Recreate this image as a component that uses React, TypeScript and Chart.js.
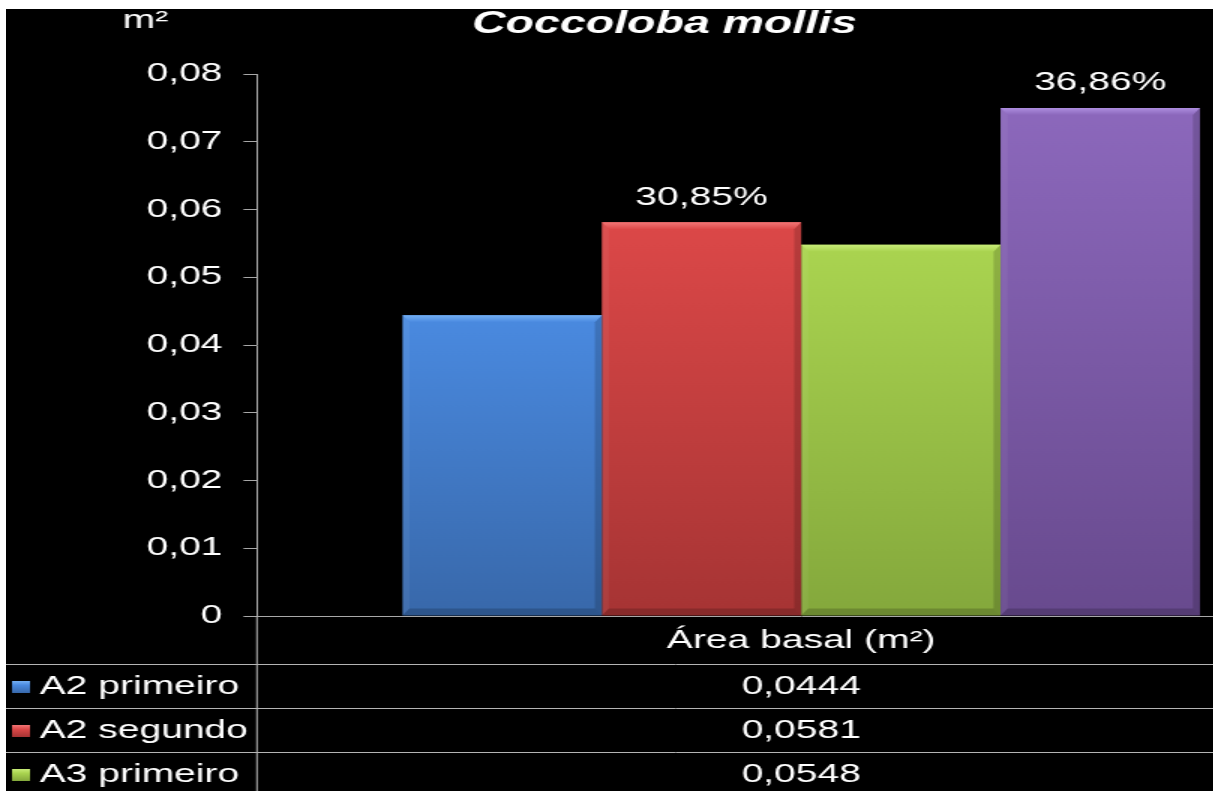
import React, { useEffect, useRef } from "react";
import { Chart, registerables } from "chart.js";

Chart.register(...registerables);

const categories = ["Área basal (m²)"];
const seriesNames = ["A2 primeiro", "A2 segundo", "A3 primeiro", "A3 segundo"];
const seriesValues = [0.0444, 0.0581, 0.0548, 0.075];
const tableValueLabels = ["0,0444", "0,0581", "0,0548", "0,0750"];
const percentLabels = ["", "30,85%", "", "36,86%"];
const yTickValues = [0, 0.01, 0.02, 0.03, 0.04, 0.05, 0.06, 0.07, 0.08];
const yTickLabels = ["0", "0,01", "0,02", "0,03", "0,04", "0,05", "0,06", "0,07", "0,08"];
const chartTitle = "Coccoloba mollis";
const yUnitLabel = "m²";

// styles
const topColors = ["#4a8ae0", "#dc4848", "#aad450", "#8c68bc"];
const bottomColors = ["#3868aa", "#a63434", "#84a83c", "#684a8e"];
const bevelColors = ["#74b0f4", "#f27676", "#c8ec78", "#ae8ee0"];

const FONT = "'Liberation Sans', Arial, sans-serif";
const SX = 1.5;
const CW = 900;
const CH = 840;

const bevelPlugin = {
  id: "bevelPlugin",
  afterDatasetsDraw(chart: any) {
    const { ctx } = chart;
    ctx.save();
    seriesValues.forEach((_, i) => {
      const bar: any = chart.getDatasetMeta(i).data[0];
      if (!bar) return;
      const l = bar.x - bar.width / 2;
      const r = bar.x + bar.width / 2;
      const t = bar.y;
      const b = bar.base;
      const bv = 7;
      const bh = bv / SX;
      // top bevel
      const g = ctx.createLinearGradient(0, t, 0, t + bv);
      g.addColorStop(0, bevelColors[i]);
      g.addColorStop(1, topColors[i]);
      ctx.fillStyle = g;
      ctx.beginPath();
      ctx.moveTo(l, t);
      ctx.lineTo(r, t);
      ctx.lineTo(r - bh, t + bv);
      ctx.lineTo(l + bh, t + bv);
      ctx.closePath();
      ctx.fill();
      // left bevel
      ctx.fillStyle = "rgba(255,255,255,0.05)";
      ctx.beginPath();
      ctx.moveTo(l, t);
      ctx.lineTo(l + bh, t + bv);
      ctx.lineTo(l + bh, b - bv);
      ctx.lineTo(l, b);
      ctx.closePath();
      ctx.fill();
      // right bevel
      ctx.fillStyle = "rgba(0,0,0,0.16)";
      ctx.beginPath();
      ctx.moveTo(r, t);
      ctx.lineTo(r - bh, t + bv);
      ctx.lineTo(r - bh, b - bv);
      ctx.lineTo(r, b);
      ctx.closePath();
      ctx.fill();
      // bottom bevel
      ctx.fillStyle = "rgba(0,0,0,0.18)";
      ctx.beginPath();
      ctx.moveTo(l, b);
      ctx.lineTo(r, b);
      ctx.lineTo(r - bh, b - bv);
      ctx.lineTo(l + bh, b - bv);
      ctx.closePath();
      ctx.fill();
    });
    ctx.restore();
  },
};

const tablePlugin = {
  id: "tablePlugin",
  afterDraw(chart: any) {
    const { ctx, chartArea } = chart;
    const xScale = chart.scales.x;
    const left = chartArea.left;
    const right = chartArea.right;
    const top = chartArea.bottom;
    const headerBottom = top + 48;
    const rowH = 44;
    ctx.save();
    // title
    ctx.fillStyle = "#ffffff";
    ctx.textAlign = "center";
    ctx.textBaseline = "middle";
    ctx.font = `italic bold 31px ${FONT}`;
    ctx.fillText(chartTitle, 439, 15);
    ctx.font = `26px ${FONT}`;
    ctx.fillText(yUnitLabel, 93, 12);

    // percent labels
    ctx.font = `26px ${FONT}`;
    seriesValues.forEach((_, i) => {
      const bar = chart.getDatasetMeta(i).data[0];
      if (percentLabels[i]) ctx.fillText(percentLabels[i], bar.x, bar.y - 25);
    });

    // table lines
    const bottom = headerBottom + rowH * seriesNames.length;
    ctx.strokeStyle = "#b4b4b4";
    ctx.lineWidth = 1;
    ctx.beginPath();
    ctx.moveTo(left, top);
    ctx.lineTo(left, bottom);
    ctx.moveTo(right, top);
    ctx.lineTo(right, bottom);
    for (let i = 0; i <= seriesNames.length; i++) {
      const y = Math.round(headerBottom + i * rowH) + 0.5;
      ctx.moveTo(0, y);
      ctx.lineTo(right, y);
    }
    ctx.stroke();

    // header
    const cx = xScale.getPixelForValue(0);
    ctx.fillStyle = "#ffffff";
    ctx.font = `26px ${FONT}`;
    ctx.textAlign = "center";
    ctx.fillText(xScale.getLabelForValue(0), cx, top + 25);

    // rows
    seriesNames.forEach((name, i) => {
      const cy = headerBottom + i * rowH + rowH / 2 + 1;
      const g = ctx.createLinearGradient(0, cy - 6, 0, cy + 6);
      g.addColorStop(0, bevelColors[i]);
      g.addColorStop(0.35, topColors[i]);
      g.addColorStop(1, bottomColors[i]);
      ctx.fillStyle = g;
      ctx.fillRect(4, cy - 6, 12, 12);
      ctx.fillStyle = "#ffffff";
      ctx.textAlign = "left";
      ctx.fillText(name, 22.5, cy);
      ctx.textAlign = "center";
      ctx.fillText(tableValueLabels[i], cx, cy);
    });
    ctx.restore();
  },
};

export default function App() {
  const ref = useRef<HTMLCanvasElement | null>(null);
  useEffect(() => {
    if (!ref.current) return;
    const chart = new Chart(ref.current, {
      type: "bar",
      data: {
        labels: categories,
        datasets: seriesNames.map((name, i) => ({
          label: name,
          data: [seriesValues[i]],
          backgroundColor: (c: any) => {
            const ch = c.chart;
            const ca = ch.chartArea;
            if (!ca) return topColors[i];
            const yTop = ch.scales.y.getPixelForValue(seriesValues[i]);
            const g = ch.ctx.createLinearGradient(0, yTop, 0, ca.bottom);
            g.addColorStop(0, topColors[i]);
            g.addColorStop(1, bottomColors[i]);
            return g;
          },
          borderWidth: 0,
          categoryPercentage: 0.7325,
          barPercentage: 1,
        })),
      },
      options: {
        responsive: false,
        animation: false,
        devicePixelRatio: 1,
        layout: { padding: { top: 65, left: 0, right: 7, bottom: CH - 607 - 48 } },
        plugins: {
          legend: { display: false },
          tooltip: { enabled: false },
          title: { display: false },
        },
        scales: {
          x: {
            ticks: { display: false },
            grid: { display: false },
            border: { display: true, color: "#a8a8a8", width: 1 },
            afterFit: (s: any) => {
              s.height = 48;
            },
          },
          y: {
            min: 0,
            max: 0.08,
            afterBuildTicks: (s: any) => {
              s.ticks = yTickValues.map((v) => ({ value: v }));
            },
            ticks: {
              color: "#ffffff",
              font: { family: FONT, size: 26 },
              padding: 14,
              callback: (v: any) => {
                const idx = yTickValues.findIndex((t) => Math.abs(t - Number(v)) < 1e-9);
                return idx >= 0 ? yTickLabels[idx] : "";
              },
            },
            grid: {
              drawOnChartArea: false,
              drawTicks: true,
              tickLength: 9,
              color: "#a8a8a8",
            },
            border: { display: true, color: "#a8a8a8", width: 1 },
            afterFit: (s: any) => {
              s.width = 167.3;
            },
          },
        },
      },
      plugins: [bevelPlugin, tablePlugin],
    });
    return () => chart.destroy();
  }, []);

  return (
    <div
      style={{
        position: "fixed",
        left: 6,
        top: 9,
        width: 1207,
        height: 782,
        overflow: "hidden",
        background: "#000000",
      }}
    >
      <div style={{ transform: `scaleX(${SX})`, transformOrigin: "0 0", width: CW, height: CH }}>
        <canvas ref={ref} width={CW} height={CH} style={{ display: "block", width: CW, height: CH }} />
      </div>
    </div>
  );
}
